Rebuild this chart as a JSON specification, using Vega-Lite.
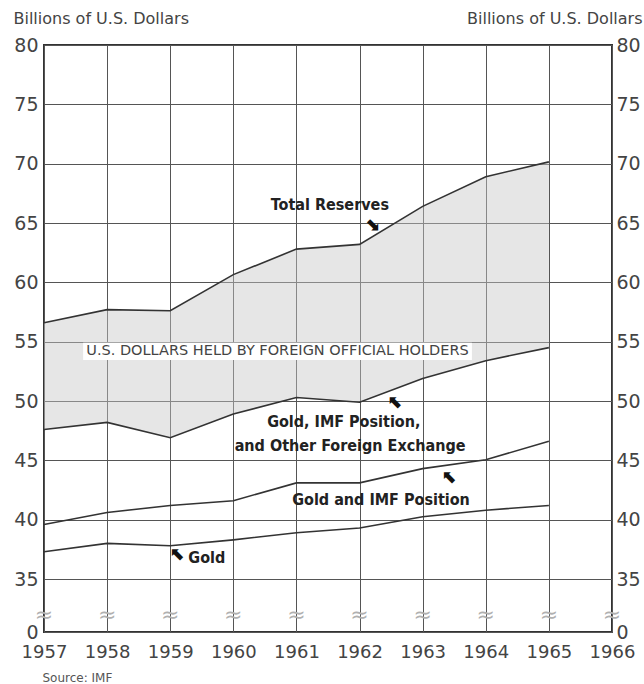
{
  "$schema": "https://vega.github.io/schema/vega-lite/v6.json",
  "width": 568,
  "height": 587,
  "autosize": {"type": "none"},
  "padding": {"left": 44, "top": 45, "right": 32, "bottom": 52},
  "background": "white",
  "config": {
    "view": {"stroke": "#333", "strokeWidth": 2},
    "font": "DejaVu Sans",
    "axis": {"labelFont": "DejaVu Sans", "labelColor": "#444", "titleFont": "DejaVu Sans", "titleColor": "#444", "titleFontWeight": "normal"}
  },
  "resolve": {"axis": {"y": "independent"}},
  "datasets": {
    "reserves": [
      {"year": 1957, "total": 56.6, "gifx": 47.6, "gimf": 39.6, "gold": 37.3},
      {"year": 1958, "total": 57.7, "gifx": 48.2, "gimf": 40.6, "gold": 38.0},
      {"year": 1959, "total": 57.6, "gifx": 46.9, "gimf": 41.2, "gold": 37.8},
      {"year": 1960, "total": 60.65, "gifx": 48.9, "gimf": 41.6, "gold": 38.3},
      {"year": 1961, "total": 62.8, "gifx": 50.3, "gimf": 43.1, "gold": 38.9},
      {"year": 1962, "total": 63.2, "gifx": 49.9, "gimf": 43.1, "gold": 39.3},
      {"year": 1963, "total": 66.4, "gifx": 51.9, "gimf": 44.3, "gold": 40.25},
      {"year": 1964, "total": 68.9, "gifx": 53.4, "gimf": 45.05, "gold": 40.8},
      {"year": 1965, "total": 70.15, "gifx": 54.5, "gimf": 46.6, "gold": 41.2}
    ],
    "breaks": [
      {"year": 1957, "v": 11}, {"year": 1958, "v": 11}, {"year": 1959, "v": 11},
      {"year": 1960, "v": 11}, {"year": 1961, "v": 11}, {"year": 1962, "v": 11},
      {"year": 1963, "v": 11}, {"year": 1964, "v": 11}, {"year": 1965, "v": 11},
      {"year": 1966, "v": 11}
    ],
    "notes": [
      {"year": 1961.53, "v": 66.5, "label": "Total Reserves"},
      {"year": 1961.75, "v": 48.2, "label": "Gold, IMF Position,"},
      {"year": 1961.85, "v": 46.2, "label": "and Other Foreign Exchange"},
      {"year": 1962.34, "v": 41.67, "label": "Gold and IMF Position"},
      {"year": 1959.58, "v": 36.75, "label": "Gold"}
    ],
    "arrows": [
      {"year": 1962.2, "v": 64.8, "label": "⬊"},
      {"year": 1962.57, "v": 49.85, "label": "⬉"},
      {"year": 1963.43, "v": 43.5, "label": "⬉"},
      {"year": 1959.12, "v": 37.0, "label": "⬉"}
    ],
    "box": [
      {"x1": 1957.62, "x2": 1963.78, "y1": 53.45, "y2": 54.9, "label": "U.S. DOLLARS HELD BY FOREIGN OFFICIAL HOLDERS", "xm": 1960.7, "ym": 54.2}
    ]
  },
  "layer": [
    {
      "data": {"name": "reserves"},
      "mark": {"type": "area", "color": "#c8c8c8", "opacity": 0.45},
      "encoding": {
        "x": {
          "field": "year", "type": "quantitative",
          "scale": {"domain": [1957, 1966], "nice": false, "zero": false},
          "axis": {
            "values": [1957, 1958, 1959, 1960, 1961, 1962, 1963, 1964, 1965, 1966],
            "format": "d", "labelFontSize": 18, "labelPadding": 11, "ticks": false, "domain": false,
            "labelOverlap": false, "labelFlush": false, "labelBound": false,
            "grid": true, "gridColor": "#555", "gridWidth": 1, "gridOpacity": 1,
            "title": "Source: IMF", "titleFontSize": 12, "titleX": -2, "titleY": 45,
            "titleAlign": "left", "titleBaseline": "middle", "titleColor": "#555"
          }
        },
        "y": {
          "field": "total", "type": "quantitative",
          "scale": {"domain": [0, 35, 80], "range": [587, 534, 0], "nice": false, "zero": false},
          "axis": {
            "orient": "left",
            "values": [0, 35, 40, 45, 50, 55, 60, 65, 70, 75, 80],
            "labelFontSize": 19, "labelPadding": 6, "ticks": false, "domain": false,
            "labelOverlap": false, "labelBound": false, "labelFlush": false,
            "grid": true, "gridColor": "#555", "gridWidth": 1, "gridOpacity": 1,
            "title": "Billions of U.S. Dollars", "titleAngle": 0, "titleFontSize": 16,
            "titleAlign": "left", "titleBaseline": "alphabetic", "titleX": -31, "titleY": -22
          }
        },
        "y2": {"field": "gifx"}
      }
    },
    {
      "data": {"name": "reserves"},
      "mark": {"type": "text", "opacity": 0},
      "encoding": {
        "x": {"field": "year", "type": "quantitative"},
        "y": {
          "field": "total", "type": "quantitative",
          "axis": {
            "orient": "right",
            "values": [0, 35, 40, 45, 50, 55, 60, 65, 70, 75, 80],
            "labelFontSize": 19, "labelPadding": 4, "ticks": false, "domain": false, "grid": false,
            "labelOverlap": false, "labelBound": false, "labelFlush": false,
            "title": "Billions of U.S. Dollars", "titleAngle": 0, "titleFontSize": 16,
            "titleAlign": "right", "titleBaseline": "alphabetic", "titleX": 30, "titleY": -22
          }
        },
        "text": {"value": ""}
      }
    },
    {
      "data": {"name": "reserves"},
      "transform": [{"fold": ["total", "gifx", "gimf", "gold"], "as": ["series", "value"]}],
      "mark": {"type": "line", "color": "#333", "strokeWidth": 1.6},
      "encoding": {
        "x": {"field": "year", "type": "quantitative"},
        "y": {"field": "value", "type": "quantitative", "axis": null},
        "detail": {"field": "series"}
      }
    },
    {
      "data": {"name": "box"},
      "mark": {"type": "rect", "color": "white"},
      "encoding": {
        "x": {"field": "x1", "type": "quantitative"},
        "x2": {"field": "x2"},
        "y": {"field": "y1", "type": "quantitative", "axis": null},
        "y2": {"field": "y2"}
      }
    },
    {
      "data": {"name": "box"},
      "mark": {"type": "text", "fontSize": 14.5, "color": "#444", "font": "DejaVu Sans"},
      "encoding": {
        "x": {"field": "xm", "type": "quantitative"},
        "y": {"field": "ym", "type": "quantitative", "axis": null},
        "text": {"field": "label"}
      }
    },
    {
      "data": {"name": "notes"},
      "mark": {"type": "text", "fontSize": 16, "fontWeight": "bold", "color": "#222", "font": "DejaVu Sans Condensed"},
      "encoding": {
        "x": {"field": "year", "type": "quantitative"},
        "y": {"field": "v", "type": "quantitative", "axis": null},
        "text": {"field": "label"}
      }
    },
    {
      "data": {"name": "arrows"},
      "mark": {"type": "text", "fontSize": 18, "fontWeight": "bold", "color": "#111", "font": "DejaVu Sans"},
      "encoding": {
        "x": {"field": "year", "type": "quantitative"},
        "y": {"field": "v", "type": "quantitative", "axis": null},
        "text": {"field": "label"}
      }
    },
    {
      "data": {"name": "breaks"},
      "mark": {"type": "text", "fontSize": 22, "color": "#b0b0b0", "font": "DejaVu Sans"},
      "encoding": {
        "x": {"field": "year", "type": "quantitative"},
        "y": {"field": "v", "type": "quantitative", "axis": null},
        "text": {"value": "≈"}
      }
    }
  ]
}
